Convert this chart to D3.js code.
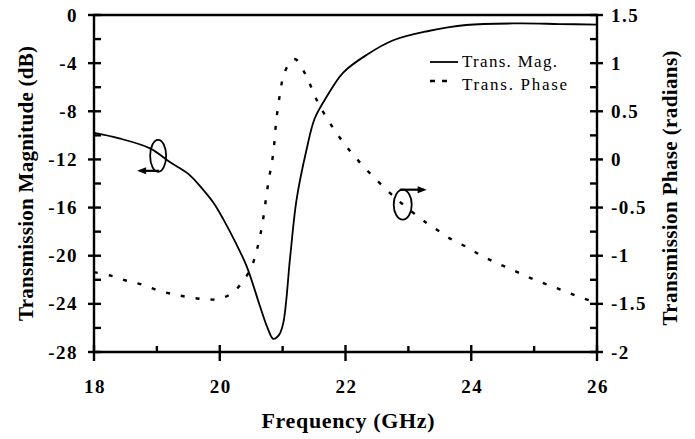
<!DOCTYPE html>
<html lang="en">
<head>
  <meta charset="UTF-8">
  <title>Transmission</title>
  <script src="https://cdn.jsdelivr.net/npm/d3@7.9.0/dist/d3.min.js"></script>
  <style>
    body { margin: 0; background: #fff; }
    svg { display: block; }
    text { font-family: "Liberation Serif", "Times New Roman", serif; fill: #000; }
  </style>
</head>
<body>
  <div id="chart"></div>
  <script>
    // Frequency (GHz) / transmission magnitude (dB)
    const magFreq = [18.0, 18.4, 18.9, 19.2, 19.5, 19.7, 19.9, 20.06, 20.25, 20.43, 20.64, 20.76, 20.85,
                     20.94, 21.01, 21.12, 21.22, 21.38, 21.51, 21.7, 21.96, 22.34, 22.76, 23.3, 23.92,
                     24.77, 25.4, 26.0];
    const magDb   = [-9.8, -10.25, -11.1, -12.2, -13.2, -14.3, -15.6, -17.0, -18.9, -20.9, -24.2, -26.0, -26.9,
                     -26.6, -25.6, -20.1, -15.4, -11.2, -8.6, -6.8, -4.8, -3.3, -2.1, -1.35, -0.83,
                     -0.7, -0.75, -0.8];

    // Frequency (GHz) / transmission phase (radians)
    const phaseFreq = [18.0, 18.28, 18.52, 18.76, 19.02, 19.26, 19.5, 19.74, 19.98, 20.21, 20.48, 20.64, 20.77,
                       20.85, 20.9, 20.96, 21.01, 21.09, 21.2, 21.38, 21.54, 21.75, 22.02, 22.34, 22.71,
                       22.89, 23.29, 23.5, 23.71, 23.93, 24.14, 24.35, 24.56, 24.8, 25.01, 25.25, 25.49,
                       25.73, 26.0];
    const phaseRad  = [-1.17, -1.21, -1.26, -1.30, -1.36, -1.40, -1.43, -1.45, -1.45, -1.38, -1.15, -0.80, -0.25,
                       0.06, 0.41, 0.69, 0.86, 0.98, 1.04, 0.86, 0.62, 0.38, 0.13, -0.11, -0.35,
                       -0.455, -0.66, -0.75, -0.84, -0.91, -0.99, -1.06, -1.12, -1.19, -1.25, -1.31, -1.37,
                       -1.43, -1.49];

    // tick values
    const xTicks = [18, 20, 22, 24, 26];
    const xMinor = [19, 21, 23, 25];
    const magTicks = [0, -4, -8, -12, -16, -20, -24, -28];
    const magMinor = [-2, -6, -10, -14, -18, -22, -26];
    const phaseTicks = [1.5, 1, 0.5, 0, -0.5, -1, -1.5, -2];
    const phaseMinor = [1.25, 0.75, 0.25, -0.25, -0.75, -1.25, -1.75];

    const legendLabels = ["Trans. Mag.", "Trans. Phase"];

    const W = 695, H = 439;
    const margin = { top: 15, right: 98, bottom: 87, left: 94 };

    const svg = d3.select("#chart").append("svg")
      .attr("width", W)
      .attr("height", H);

    const x = d3.scaleLinear().domain([18, 26]).range([margin.left, W - margin.right]);
    const yMag = d3.scaleLinear().domain([-28, 0]).range([H - margin.bottom, margin.top]);
    const yPh = d3.scaleLinear().domain([-2, 1.5]).range([H - margin.bottom, margin.top]);

    const x0 = x.range()[0], x1 = x.range()[1];
    const yb = yMag.range()[0], yt = yMag.range()[1];

    function seg(parent, a, b, c, d, w) {
      return parent.append("line")
        .attr("x1", a).attr("y1", b).attr("x2", c).attr("y2", d)
        .attr("stroke", "#000").attr("stroke-width", w || 2.4);
    }
    function tickLabel(px, py, txt, anchor) {
      return svg.append("text")
        .attr("x", px).attr("y", py)
        .attr("text-anchor", anchor)
        .style("font-size", "19px").style("font-weight", "bold").style("letter-spacing", "1.5px")
        .text(txt);
    }

    // ---- frame / axis lines ----
    const frame = svg.append("g");
    seg(frame, x0 - 1, yb, x1 + 1, yb);
    seg(frame, x0 - 1, yt, x1 + 1, yt);
    seg(frame, x0, yt, x0, yb);
    seg(frame, x1, yt, x1, yb);

    // bottom ticks
    xTicks.forEach(d => {
      seg(frame, x(d), yb - 7, x(d), yb + 9);
      tickLabel(x(d) + 1, yb + 41, String(d), "middle");
    });
    xMinor.forEach(d => seg(frame, x(d), yb - 6, x(d), yb));

    // left ticks
    magTicks.forEach(d => {
      seg(frame, x0 - 6, yMag(d), x0 + 7, yMag(d));
      tickLabel(x0 - 16, yMag(d) + 6.5, String(d), "end");
    });
    magMinor.forEach(d => seg(frame, x0, yMag(d), x0 + 7, yMag(d)));

    // right ticks
    phaseTicks.forEach(d => {
      seg(frame, x1 - 7, yPh(d), x1 + 6, yPh(d));
      tickLabel(x1 + 14, yPh(d) + 6.5, String(d), "start");
    });
    phaseMinor.forEach(d => seg(frame, x1 - 7, yPh(d), x1, yPh(d)));

    // ---- curves ----
    const magData = magFreq.map((f, i) => [f, magDb[i]]);
    const phData = phaseFreq.map((f, i) => [f, phaseRad[i]]);

    svg.append("path")
      .datum(magData)
      .attr("fill", "none")
      .attr("stroke", "#000")
      .attr("stroke-width", 1.8)
      .attr("d", d3.line().x(d => x(d[0])).y(d => yMag(d[1])).curve(d3.curveCatmullRom.alpha(0.5)));

    svg.append("path")
      .datum(phData)
      .attr("fill", "none")
      .attr("stroke", "#000")
      .attr("stroke-width", 2.4)
      .attr("stroke-dasharray", "4,11")
      .attr("d", d3.line().x(d => x(d[0])).y(d => yPh(d[1])).curve(d3.curveCatmullRom.alpha(0.5)));

    // ---- annotations (ellipses + arrows pointing to each axis) ----
    function arrow(xa, ya, xb, yb2) {
      seg(svg, xa, ya, xb, yb2, 2.2);
      const dir = Math.sign(xb - xa);
      svg.append("path")
        .attr("d", `M${xb + dir * 3},${yb2} L${xb - dir * 6},${yb2 - 3.5} L${xb - dir * 6},${yb2 + 3.5} Z`)
        .attr("fill", "#000");
    }

    // left: curve is magnitude, arrow to the left axis
    const lc = [x(19.02), yMag(-11.7)];
    svg.append("ellipse")
      .attr("cx", lc[0]).attr("cy", lc[1]).attr("rx", 8).attr("ry", 16)
      .attr("fill", "none").attr("stroke", "#000").attr("stroke-width", 1.8);
    arrow(lc[0] + 1, lc[1] + 15, lc[0] - 18, lc[1] + 15);

    // right: curve is phase, arrow to the right axis
    const rc = [x(22.91), yPh(-0.47)];
    svg.append("ellipse")
      .attr("cx", rc[0]).attr("cy", rc[1]).attr("rx", 9).attr("ry", 15)
      .attr("fill", "none").attr("stroke", "#000").attr("stroke-width", 1.8);
    arrow(rc[0] - 3, rc[1] - 15, rc[0] + 21, rc[1] - 15);

    // ---- legend ----
    const lg = svg.append("g").attr("transform", "translate(430,62)");
    seg(lg, 0, 0, 28, 0, 1.8);
    seg(lg, 0, 19, 17, 19, 2.6).attr("stroke-dasharray", "5,7");
    legendLabels.forEach((d, i) => {
      lg.append("text")
        .attr("x", 32)
        .attr("y", 5 + i * 23)
        .attr("textLength", i === 0 ? 95 : 105)
        .attr("lengthAdjust", "spacing")
        .style("font-size", "17px")
        .text(d);
    });

    // ---- axis titles ----
    svg.append("text")
      .attr("transform", `translate(33,${(yt + yb) / 2}) rotate(-90)`)
      .attr("text-anchor", "middle")
      .attr("textLength", 275).attr("lengthAdjust", "spacing")
      .style("font-size", "21px").style("font-weight", "bold")
      .text("Transmission Magnitude (dB)");

    svg.append("text")
      .attr("transform", `translate(677,188) rotate(-90)`)
      .attr("text-anchor", "middle")
      .attr("textLength", 275).attr("lengthAdjust", "spacing")
      .style("font-size", "21px").style("font-weight", "bold")
      .text("Transmission Phase (radians)");

    svg.append("text")
      .attr("x", 348).attr("y", 428)
      .attr("text-anchor", "middle")
      .attr("textLength", 173).attr("lengthAdjust", "spacing")
      .style("font-size", "22px").style("font-weight", "bold")
      .text("Frequency (GHz)");
  </script>
</body>
</html>
